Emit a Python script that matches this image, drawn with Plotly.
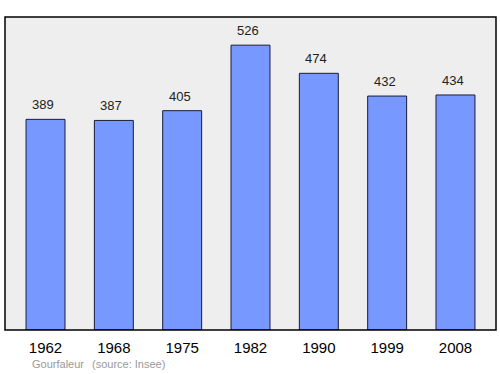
import plotly.graph_objects as go

years = ["1962", "1968", "1975", "1982", "1990", "1999", "2008"]
population = [389, 387, 405, 526, 474, 432, 434]
footer_place = "Gourfaleur"
footer_source = "(source: Insee)"

W, H = 500, 374
ml, mr, mt, mb = 5, 4, 17, 44
pw = W - ml - mr
ph = H - mt - mb

def px_to_paper_x(px):
    return (px - ml) / pw

def px_to_paper_y(py):
    return (H - mb - py) / ph

fig = go.Figure()
fig.add_trace(go.Bar(
    x=years, y=population, width=0.57,
    marker=dict(color="#7799ff", line=dict(color="#1a1a3a", width=1)),
    hoverinfo="skip",
))

for i, v in enumerate(population):
    fig.add_annotation(x=i, y=v, text=str(v), showarrow=False,
                       yanchor="bottom", yshift=5, xshift=-2.5,
                       font=dict(size=13, color="#222222", family="Liberation Sans"))

fig.add_annotation(xref="paper", yref="paper", x=px_to_paper_x(30), y=px_to_paper_y(364),
                   text=footer_place, showarrow=False, xanchor="left", yanchor="middle",
                   font=dict(size=11, color="#999999", family="Liberation Sans"))
fig.add_annotation(xref="paper", yref="paper", x=px_to_paper_x(90), y=px_to_paper_y(364),
                   text=footer_source, showarrow=False, xanchor="left", yanchor="middle",
                   font=dict(size=11, color="#999999", family="Liberation Sans"))

fig.add_shape(type="rect", xref="paper", yref="paper", x0=0, y0=0, x1=1, y1=1,
              line=dict(color="#000000", width=1.5), layer="above")

fig.update_layout(
    width=W, height=H,
    margin=dict(l=ml, r=mr, t=mt, b=mb),
    paper_bgcolor="#ffffff", plot_bgcolor="#eeeeee",
    showlegend=False,
    xaxis=dict(type="category", range=[-0.593, 6.593], showgrid=False, zeroline=False,
               ticks="outside", ticklen=4, tickcolor="rgba(0,0,0,0)",
               tickfont=dict(size=15, color="#000000", family="Liberation Sans"),
               fixedrange=True),
    yaxis=dict(range=[0, 578], showgrid=False, zeroline=False, showticklabels=False,
               fixedrange=True),
    font=dict(family="Liberation Sans"),
)

fig.write_html("out.html", config={"displayModeBar": False})
